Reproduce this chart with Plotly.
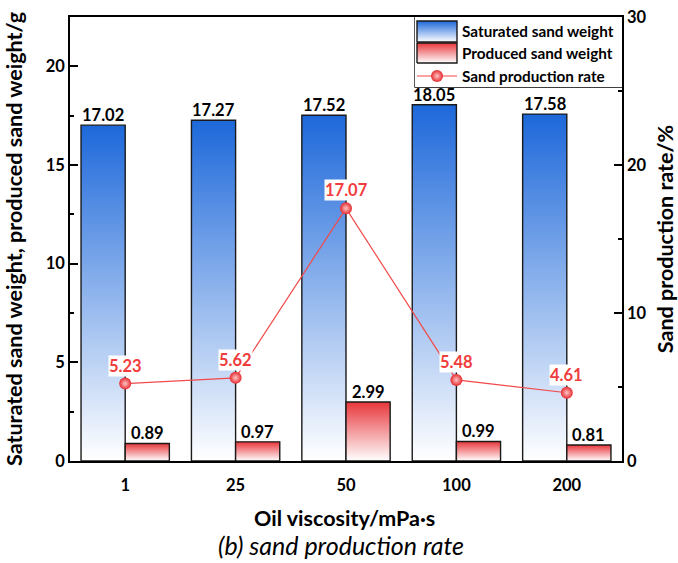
import plotly.graph_objects as go

categories = ["1", "25", "50", "100", "200"]
saturated = [17.02, 17.27, 17.52, 18.05, 17.58]
produced = [0.89, 0.97, 2.99, 0.99, 0.81]
rate = [5.23, 5.62, 17.07, 5.48, 4.61]
series_names = ["Saturated sand weight", "Produced sand weight", "Sand production rate"]

FONT = "Lato"
BLUE = "#1d68da"
RED = "#e8373c"
LINE_RED = "#f24a4a"
BW = 0.4
OUTLINE = dict(color="#1a1a1a", width=1.4)
MARKER = dict(size=12, color="#e52a2f", gradient=dict(type="radial", color="#ffc4c4"))
BOLD = dict(family=FONT, color="black", weight="bold")

fig = go.Figure()


def grad(color):
    return dict(type="vertical", colorscale=[[0, "#ffffff"], [1, color]])


def bar_poly(i, v, left, color):
    x0 = i - BW if left else i
    x1 = x0 + BW
    fig.add_trace(go.Scatter(
        x=[x0, x0, x1, x1, x0], y=[0, v, v, 0, 0],
        mode="lines", fill="toself", line=OUTLINE, fillgradient=grad(color),
        showlegend=False, hoverinfo="skip", xaxis="x", yaxis="y",
    ))


for i, v in enumerate(saturated):
    bar_poly(i, v, True, BLUE)
for i, v in enumerate(produced):
    bar_poly(i, v, False, RED)

xs = list(range(len(categories)))
fig.add_trace(go.Scatter(
    x=xs, y=rate, mode="lines+markers", name=series_names[2],
    line=dict(color=LINE_RED, width=1.2), marker=MARKER,
    showlegend=False, yaxis="y2",
))

# ---- custom legend (drawn in its own small axis, pixel units) ----
fig.add_trace(go.Scatter(x=[2, 2, 42, 42, 2], y=[45, 66, 66, 45, 45], mode="lines", fill="toself",
                         line=OUTLINE, fillgradient=grad(BLUE), showlegend=False,
                         hoverinfo="skip", xaxis="x3", yaxis="y3"))
fig.add_trace(go.Scatter(x=[2, 2, 42, 42, 2], y=[24, 44, 44, 24, 24], mode="lines", fill="toself",
                         line=OUTLINE, fillgradient=grad(RED), showlegend=False,
                         hoverinfo="skip", xaxis="x3", yaxis="y3"))
fig.add_trace(go.Scatter(x=[2, 42], y=[11, 11], mode="lines", line=dict(color=LINE_RED, width=1.2),
                         showlegend=False, hoverinfo="skip", xaxis="x3", yaxis="y3"))
fig.add_trace(go.Scatter(x=[22], y=[11], mode="markers", marker=MARKER,
                         showlegend=False, hoverinfo="skip", xaxis="x3", yaxis="y3"))

ann = []
for name, yy in zip(series_names, [56, 34.5, 11]):
    ann.append(dict(x=45, y=yy, xref="x3", yref="y3", text=name, showarrow=False,
                    xanchor="left", yanchor="middle", font=dict(size=15.3, **BOLD)))

for i, v in enumerate(saturated):
    ann.append(dict(x=i - BW / 2, y=v, xref="x", yref="y", text=f"{v:.2f}", showarrow=False,
                    yanchor="bottom", yshift=-2, font=dict(size=16.5, **BOLD)))
for i, v in enumerate(produced):
    ann.append(dict(x=i + BW / 2, y=v, xref="x", yref="y", text=f"{v:.2f}", showarrow=False,
                    yanchor="bottom", yshift=-2, font=dict(size=16.5, **BOLD)))
for i, v in enumerate(rate):
    ann.append(dict(x=i, y=v, xref="x", yref="y2", text=f"{v:.2f}", showarrow=False,
                    yanchor="bottom", yshift=7, bgcolor="white", borderpad=0,
                    font=dict(family=FONT, size=16.5, color="#f03c3c", weight="bold")))
ann.append(dict(x=0.498, y=-0.128, xref="paper", yref="paper", text="Oil viscosity/mPa·s",
                showarrow=False, yanchor="middle", font=dict(size=21.5, **BOLD)))
ann.append(dict(x=0.491, y=-0.19, xref="paper", yref="paper", text="<i>(b) sand production rate</i>",
                showarrow=False, yanchor="middle", font=dict(family=FONT, size=25, color="black")))

LEG_X0 = (415 - 70) / 552
LEG_Y0 = (461 - 87) / 444

fig.update_layout(
    width=678, height=563,
    margin=dict(l=70, r=56, t=17, b=102, autoexpand=False),
    paper_bgcolor="white", plot_bgcolor="white",
    font=dict(family=FONT, size=16, color="black"),
    showlegend=False,
    annotations=ann,
    shapes=[dict(type="rect", xref="paper", yref="paper", x0=LEG_X0, x1=1, y0=LEG_Y0, y1=1,
                 fillcolor="white", line=dict(color="black", width=1.3), layer="below")],
    xaxis=dict(range=[-0.5, len(categories) - 0.5], tickvals=xs, ticktext=categories,
               showgrid=False, zeroline=False, showline=True, linecolor="black", linewidth=1.5,
               mirror=True, ticks="", ticklabelstandoff=8, automargin=False,
               tickfont=dict(size=16.5, **BOLD)),
    yaxis=dict(range=[0, 22.5], tickvals=[0, 5, 10, 15, 20], showgrid=False, zeroline=False,
               showline=True, linecolor="black", linewidth=1.5, ticks="inside", ticklen=8,
               tickwidth=1.5, tickcolor="black", automargin=False,
               minor=dict(dtick=2.5, ticks="inside", ticklen=4, tickwidth=1.5, tickcolor="black"),
               tickfont=dict(size=16.5, **BOLD),
               title=dict(text="Saturated sand weight, produced sand weight/g", standoff=17,
                          font=dict(size=21.5, **BOLD))),
    yaxis2=dict(range=[0, 30], tickvals=[0, 10, 20, 30], overlaying="y", side="right",
                showgrid=False, zeroline=False, showline=True, linecolor="black", linewidth=1.5,
                ticks="inside", ticklen=8, tickwidth=1.5, tickcolor="black", automargin=False,
                minor=dict(dtick=5, ticks="inside", ticklen=4, tickwidth=1.5, tickcolor="black"),
                tickfont=dict(size=16.5, **BOLD),
                title=dict(text="Sand production rate/%", standoff=20,
                           font=dict(size=21.5, **BOLD))),
    xaxis3=dict(domain=[LEG_X0, 1], range=[0, 207], visible=False, fixedrange=True, anchor="y3"),
    yaxis3=dict(domain=[LEG_Y0, 1], range=[0, 70], visible=False, fixedrange=True, anchor="x3"),
)

fig.write_html("out.html")
